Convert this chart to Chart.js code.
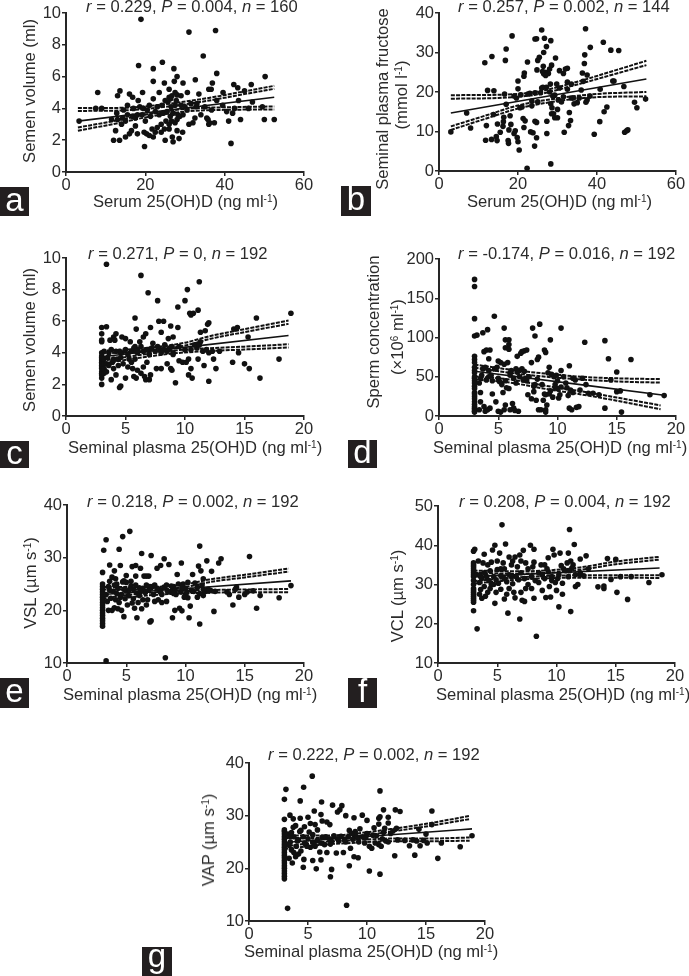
<!DOCTYPE html>
<html>
<head>
<meta charset="utf-8">
<title>25(OH)D correlations</title>
<script src="https://cdn.jsdelivr.net/npm/chart.js@4"></script>
<style>
  html, body { margin: 0; padding: 0; background: #fff; }
  body { position: relative; width: 689px; height: 976px; overflow: hidden; font-family: "Liberation Sans", Arial, sans-serif; color: #2b2b2b; }
  canvas { position: absolute; }
  .label { position: absolute; white-space: nowrap; font-size: 16.6px; line-height: 18px; transform: translateY(-50%); }
  .ylabel { position: absolute; white-space: nowrap; font-size: 16.6px; line-height: 18px; transform: translate(-50%, -50%) rotate(-90deg); }
  sup { font-size: 10px; line-height: 0; vertical-align: 5px; }
  .badge { position: absolute; background: #231f20; color: #fff; font-size: 33px; text-align: center; }
</style>
</head>
<body>
<script>
// Panel a - semen volume vs serum 25(OH)D
const aPoints = [[18.9,9.6],[31,8.8],[37.7,8.9],[34.6,7.3],[18.3,6.7],[24.3,6.9],[22,6.5],[27.2,6.5],[38,6.2],[50.2,6],[28,6],[22,5.7],[24.8,5.6],[27.3,5.7],[29.5,5.6],[32.6,5.8],[36.9,5.6],[8,5],[13.6,5.1],[13,4.8],[16,4.9],[16.8,4.7],[19.3,5],[23.5,5],[26,5.2],[30.6,5],[33.5,4.9],[36,5.2],[36.6,5.2],[39.6,5],[42.3,5.5],[43.3,5.3],[45,5.1],[46.7,5.5],[27.5,5],[28,4.85],[29,4.8],[26,4.7],
  [3.3,3.2],[7.5,4],[9,4],[11.5,3.3],[12,2],[12.5,2.6],[13.5,2],[13,3.3],[14,3],[14.3,3.4],[15,2.2],[15.5,3.6],[15.5,4.2],[16,2.4],[16.5,2.6],[16.8,3.5],[17.5,3.4],[17.5,2.9],[18,2.4],[18.2,4.5],[18.6,4.1],[19.2,3.6],[19.5,4],[19.7,2.5],[19.8,1.6],[20.3,2.4],[20.5,3.9],[21,4.2],[21,2.3],[21.3,3.5],[21.7,2.7],[22,2.2],[22,4.6],[22.5,2.5],[23,2.8],[23,4.1],[23.5,3.6],[24,3],[24,2.5],[24.5,3.7],[24.8,2.7],[25,2],[25.2,3.2],[25.5,3.8],[25.7,4.4],[26,3],[26,2.7],[26.3,3.5],[26.6,3.2],[26.7,4.8],[26.8,2.2],[27,1.9],[27,3.7],[27.5,3.1],[27.5,4.2],[28,2.6],[28.2,3.6],[28.5,2.1],[28.7,3.5],[29,4.2],[29.4,2.5],[29.5,3.6],[30,4.1],[31,3],[31.5,4.3],[32,3.1],[32.5,3.4],[32.8,4.1],[33,4.3],[34,3.6],[35,4.1],[35.5,3.4],[36,3],[36.7,3.9],[37.4,3.1],[38,4.5],[39.5,4.2],[40.5,3.8],[41,3.2],[41.6,1.8],[42,3.7],[42.5,4],[43.5,4.5],[44,3.3],[47,4.4],[49.5,4.1],[50,3.3],[52.5,3.3],[46,4],[36.2,3.1],[35.8,3.3],[17,4],[18,3.6],[14.5,3.9],[20,3.2],[22.5,3.8],[24.2,4.2],[26.5,4.1],[28,3.3],[30.5,3.9],[12.8,3.7],[15,3.2],[25,4.5],[26.4,4.6],[27.8,4.5]];
const aFit = [[3,3.2],[52.5,4.7]];
const aUpperOuter = [[3,4.02],[15,4.04],[25,4.27],[35,4.62],[45,5.07],[52.5,5.42]];
const aUpperInner = [[3,3.84],[15,3.88],[25,4.1],[35,4.45],[45,4.9],[52.5,5.23]];
const aLowerOuter = [[3,2.8],[12,3.2],[20,3.6],[30,3.97],[40,4.07],[52.5,4.12]];
const aLowerInner = [[3,2.6],[12,3.02],[20,3.43],[30,3.8],[40,3.91],[52.5,3.93]];

// Panel b - seminal plasma fructose vs serum 25(OH)D
const bPoints = [[3,9.9],[7,14.7],[8,10.9],[11.6,27.4],[11.8,7.8],[12,11.5],[12.3,20.4],[13.3,8],[13.4,29],[13.8,14.3],[13.9,20.3],[14.5,8.7],[14.7,7.7],[14.8,11.9],[15.5,9.8],[16.2,11.3],[16.3,12.5],[16.4,13.6],[16.6,19.5],[16.8,28],[17,30.9],[17,16.9],[17.5,7.7],[17.6,7],[17.7,10.4],[18,14],[18.2,11.8],[18.5,34.2],[19,9.5],[19.3,10.2],[19.6,18.5],[20,22.8],[20,20.8],[19.8,8.5],[20,7.4],[20.3,5.3],[20.7,19.3],[20.5,16],[21.3,13.3],[21.5,24],[21.6,24.8],[21.8,12.7],[21.5,11],[22.3,0.7],[22.4,27.6],[23,19.7],[23.2,9.9],[23.5,17.7],[23.8,9.7],[23.5,16.5],[24.2,6.3],[24.3,19.8],[24.3,12.6],[24.3,33.4],[24.7,33.5],[24.7,8.4],[24.7,12.3],[24.8,25.6],[25,28],[25.4,28.8],[25.7,19.8],[26,35.7],[26.3,21.2],[26.4,26.5],[26.5,30],[26.5,24.6],[26.7,33.6],[26.8,25],[27.2,31.5],[27.2,21.2],[27.3,9.5],[27.3,12.6],[27.5,25],[27.7,24.7],[28,25.8],[28,20],[28.2,22],[28.3,33],[28.5,26.8],[28.3,17],[28.5,14.5],[28.6,16],[28.3,1.8],[29,14.5],[29.3,19.2],[29.3,13.5],[29.5,28.6],[29.8,22],[30,15.6],[30,13.5],[30.2,18],[30.5,25.4],[31,17.5],[31.5,18.8],[31.5,24.7],[31.7,9.8],[32,25.8],[32.5,26],[32.5,20.7],[32.5,22.5],[32.8,11.5],[33,14.8],[33.3,12.8],[33.5,18.5],[33.5,22],[34.2,17],[35,17.3],[35.5,18.5],[36,20.5],[36.3,24.8],[36.5,22.7],[36.8,27.2],[36.9,29.4],[37.2,17.4],[37.5,24.3],[37.1,36],[37.5,18],[38.3,31.3],[38.2,19],[39.3,9.3],[40.7,12.5],[40.8,20.7],[41.6,32.6],[41.8,15],[42.5,16.2],[43.5,30.6],[44,22.8],[44.3,22.8],[45.5,30.5],[46.8,21.4],[47,9.8],[47.5,10.2],[47.8,10.4],[49.5,17.4],[50.1,16],[52.3,18.2],[19,19],[21,16.2],[22.5,19.5],[25,17.5],[26,21],[28.8,19],[30.5,21],[34,18.5],[26.2,25.2],[27,24.2]];
const bFit = [[3,14.7],[52.5,23.3]];
const bUpperOuter = [[3,19.2],[15,19.3],[25,20.1],[35,22.6],[45,25.6],[52.5,27.9]];
const bUpperInner = [[3,18.3],[15,18.5],[25,19.4],[35,21.9],[45,24.7],[52.5,26.8]];
const bLowerOuter = [[3,11.3],[12,14.1],[20,16.6],[30,18.4],[40,19.5],[52.5,20]];
const bLowerInner = [[3,10.4],[12,13.3],[20,15.8],[30,17.7],[40,18.7],[52.5,18.9]];

// Panel c - semen volume vs seminal plasma 25(OH)D
const cPoints = [[3,2],[3,2.4],[3,2.6],[3,2.7],[3,2.8],[3,3],[3,3.1],[3,3.2],[3,3.3],[3,3.4],[3,3.5],[3,3.6],[3,3.7],[3,3.8],[3,4],[3,4.7],[3,4.8],[3,5.2],[3,5.6],[3.2,2.7],[3.2,3],[3.2,3.3],[3.2,3.6],[3.2,4.1],[3.4,5.65],[3.4,9.6],[3.4,3.3],[3.4,2.8],[3.7,4.8],[3.8,2.3],[3.9,3.4],[4,5],[4.1,4.8],[4,3.6],[4.2,5.2],[4.2,2.6],[4.4,3.2],[4.5,1.8],[4.6,1.9],[4.7,5],[4.7,4],[5,2.4],[5,4.9],[5.3,3.6],[5.4,4.7],[5.5,3.4],[5.7,2.5],[5.8,6.2],[5.8,4.4],[5.9,2.4],[5.9,5.5],[6,2.9],[6,4],[6.3,8.9],[6.2,4.7],[6.3,2.7],[6.5,5],[6.7,5.2],[6.7,2.3],[6.8,3.4],[6.9,7.8],[6.9,4.2],[7,2.3],[7.1,2.6],[7.1,5.6],[7.3,4.6],[7.6,3],[7.7,7.3],[7.8,6],[7.9,4.2],[8,5.3],[8,3],[8.2,6],[8.5,3.3],[8.6,4.9],[8.7,4.3],[8.8,3],[8.9,2.9],[8.8,5.7],[9,5],[9,4],[9.2,2.1],[9.4,5.6],[9.5,3.5],[9.4,6.9],[9.8,3.4],[10,4.2],[10,7.3],[10.1,3.4],[10.2,8],[10.3,2.6],[10.5,3],[10.3,3.6],[10.4,6.5],[10.5,6.4],[10.6,2.4],[10.7,6.5],[11.1,6.7],[11.1,3.6],[11.2,8.5],[11.3,5.3],[11.3,4.7],[11.5,4.1],[11.6,3.2],[11.7,5.4],[11.9,5.8],[12,2.2],[12,5.9],[12,4],[12.4,3.6],[12.6,3],[12.9,4.1],[14,3.4],[14.1,5.5],[14.4,5.6],[14.5,4],[15,3.3],[15.3,5],[15.4,3],[16,6.2],[16.3,2.4],[17.9,3.6],[18.9,6.5],
  [4.5,4.1],[5,4.2],[5.5,4.1],[6,4.2],[6.5,4.1],[7,3.9],[7.5,4.1],[8,4],[8.5,4.1],[9,3.9],[9.5,4.4],[10.5,4.2],[11,4.3],[11.8,4.2],[12.3,4.1],[3.6,4],[3.8,4.2],[3.6,3.2],[4,3],[4.3,3.6],[4.8,3.3],[5.2,3.1],[5.6,3],[5.8,3.6],[6.5,3.1],[4.2,4.1],[5.7,4.3],[6.3,4.4],[7.2,4.3],[8.3,4.5],[8.9,4.4],[3.5,3.7],[4.6,3.7],[5.9,4.1],[6.8,4.2],[7.7,4.4],[8.2,4.2],[10.8,4.5],[11.2,4.5],[6.6,2.5],[5.2,3.9]];
const cFit = [[3,3.75],[18.7,5.1]];
const cUpperOuter = [[3,4.12],[7,4.32],[10,4.64],[12,5.04],[15,5.5],[18.7,6.04]];
const cUpperInner = [[3,3.95],[7,4.15],[10,4.46],[12,4.86],[15,5.31],[18.7,5.83]];
const cLowerOuter = [[3,3.49],[6,3.84],[9,4.14],[12,4.29],[15,4.39],[18.7,4.54]];
const cLowerInner = [[3,3.31],[6,3.66],[9,3.96],[12,4.11],[15,4.21],[18.7,4.34]];

// Panel d - sperm concentration vs seminal plasma 25(OH)D
const dPoints = [[3,174],[3,165],[3,124],[3,102],[3,76],[3,72],[3,68],[3,62],[3,58],[3,55],[3,50],[3,48],[3,45],[3,42],[3,38],[3,35],[3,30],[3,28],[3,25],[3,22],[3,18],[3,15],[3,12],[3,10],[3,8],[3,6],[3,5],[3.2,103],[3.4,8],[3.5,18],[3.7,106],[3.8,82],[4,84],[4.2,73],[4.1,110],[4.3,84],[4.67,127],[5.5,112],[5.6,97],[5.9,97],[5.9,91],[5.6,87],[5.9,85],[5,70],[5.2,68],[5.5,66],[5.8,68],[5,6],[5.2,5],[5.5,8],[5.6,14],[5.4,30],[5.9,35],[6,55],[6.2,16],[6.3,10],[6.4,7],[6.7,6],[6.6,76],[6.9,80],[7,82],[7.2,83],[7.4,84],[6.5,60],[6.8,58],[7,60],[7.2,57],[7.4,45],[7.5,27],[7.8,22],[7.8,68],[7.9,112],[8,31],[8.1,102],[8.2,20],[8.3,72],[8.4,75],[8.5,117],[8.4,8],[8.6,8],[8.8,20],[8.9,84],[9,81],[9,8],[9,5],[9.1,14],[9.3,28],[9.3,62],[9.4,97],[9.5,53],[9.6,24],[9.8,40],[9.8,36],[10,45],[10.1,23],[10.2,27],[10.3,58],[10.3,112],[10.5,50],[10.8,36],[10.9,26],[11,64],[11,10],[11.2,8],[11.3,48],[11.3,30],[11.6,11],[11.8,12],[11.9,33],[12.3,94],[12.4,40],[12.6,29],[13,29],[13.5,27],[14,96],[14,10],[14.3,73],[14.5,46],[15,56],[15,31],[15.4,5],[15.3,32],[16.2,72],[17.8,27],[19,26],
  [3.5,48],[3.7,60],[4,46],[4.2,58],[4.5,45],[4.7,60],[4.5,28],[4.8,18],[4.3,10],[3.9,6],[4.2,50],[5,48],[5.3,40],[5.6,45],[6,52],[6.3,48],[6.5,42],[6.8,50],[7.3,48],[7.6,50],[8,38],[8.3,47],[8.7,40],[9,27],[9.2,55],[9.7,50],[10,35],[10.3,37],[10.7,42],[11.1,33],[3.4,42],[3.6,52],[3.9,62],[4.4,52],[4.9,62],[5.1,44],[5.7,36],[6.1,58],[6.6,56],[7.1,46],[8.1,40],[8.9,28],[9.4,32],[9.9,52],[11.5,46],[12.1,48],[3.5,30],[3.8,12],[4.1,8],[6,8]];
const dFit = [[3,57],[19,26.5]];
const dUpperOuter = [[3,65.5],[6,59],[9,54],[12,50],[15,48],[18.7,47]];
const dUpperInner = [[3,61.5],[6,55],[9,50],[12,46.5],[15,44],[18.7,42.5]];
const dLowerOuter = [[3,50.5],[6,46.5],[9,38.5],[12,31.5],[15,23.5],[18.7,13.5]];
const dLowerInner = [[3,46.5],[6,42.5],[9,34.5],[12,27.5],[15,19.5],[18.7,8.5]];

// Panel e - VSL vs seminal plasma 25(OH)D
const ePoints = [[3,17],[3,17.5],[3,18],[3,18.5],[3,19],[3,19.5],[3,20],[3,20.5],[3,21],[3,21.5],[3,22],[3,22.5],[3,23],[3,23.5],[3,24],[3,24.5],[3,25],[3,27.2],[3.1,31.4],[3.3,33.4],[3.3,10.4],[3.5,20],[3.6,28.6],[3.6,25.5],[3.8,20],[4,27.5],[4,20.5],[4.1,26],[4.2,25],[4.3,20.3],[4.4,31.6],[4.5,28.5],[4.5,22.5],[4.6,20],[4.7,34],[4.7,25.4],[4.8,18.8],[5,26.6],[5,23.7],[5.1,21],[5.3,35],[5.4,25.5],[5.5,28.3],[5.6,24],[5.7,20.4],[5.8,28.5],[5.8,26.5],[5.9,18.6],[6,21.5],[6.1,24.3],[6.2,28],[6.3,20.3],[6.3,30.8],[6.4,22],[6.5,26.5],[6.7,21],[6.9,26.5],[7,17.8],[7.1,18],[7.1,30.4],[7.2,24.5],[7.4,21.7],[7.6,28],[7.8,24],[7.9,28.5],[8,21.5],[8.2,29.8],[8.3,11],[8.4,21.7],[8.6,28.7],[8.7,23.5],[8.9,18.6],[9,24.5],[9.1,20],[9.2,23],[9.3,26.8],[9.5,20.4],[9.7,19.9],[9.8,25],[10,22.8],[9.65,29],[10.2,25.3],[10.3,18.6],[10.4,20.8],[10.5,23.8],[10.6,26.8],[11,22.5],[11.1,28.4],[11.2,32.2],[11.2,17.4],[11.3,27.5],[11.5,26],[11.5,22.8],[11.8,29.4],[11.9,24],[12.2,27.4],[12.1,23.8],[12.4,19.8],[12.8,29],[13,29.8],[13.7,23],[14,21],[14.3,24.4],[14.5,22.5],[15,23],[15.4,30.2],[15.2,23.5],[15.7,23.7],[16,20.4],[16.3,22.8],[17.9,22.4],[18.9,24.7],
  [3.3,23],[3.5,24.5],[3.7,22.3],[3.9,23.6],[4.1,22],[4.3,24.2],[4.6,23],[4.8,24],[5.2,22.8],[5.4,24.6],[5.6,22.2],[5.9,23.3],[6.1,22.8],[6.4,24.2],[6.6,23.4],[6.8,22],[7,24.5],[7.3,23],[7.6,24.2],[7.9,23.4],[8.2,24.4],[8.5,23.6],[8.8,24.6],[9.1,23.7],[9.4,25],[9.6,23.5],[10,24.2],[10.2,22.4],[10.7,23.6],[11,24.4],[11.2,23.2],[11.5,24],[11.7,23.6],[12,23.7],[12.5,23.6],[13.5,23.5],[14.2,24],[4,24.8],[5,25.3],[6.7,24.8],[3.4,21.7],[4.4,21.5],[5.5,21.4],[7.7,22],[9.9,22.5],[3.8,26.3],[4.8,25.6],[6.7,26.5],[3.6,23.8],[4.2,23.2],[4.9,22.2],[5.3,24],[5.8,24.8],[6.2,23.6],[6.9,23.8],[7.4,24.8],[8,23],[8.4,24.8],[9,23.2],[9.7,24.4],[10.1,23.4],[10.8,25.2],[11.4,24.8]];
const eFit = [[3,23.0],[18.9,25.6]];
const eUpperOuter = [[3,24.45],[7,24.45],[10,24.95],[12,25.85],[15,26.75],[18.7,27.95]];
const eUpperInner = [[3,23.95],[7,23.95],[10,24.45],[12,25.35],[15,26.25],[18.7,27.35]];
const eLowerOuter = [[3,22.25],[6,23.15],[9,23.65],[12,23.85],[15,23.95],[18.7,24.05]];
const eLowerInner = [[3,21.75],[6,22.65],[9,23.15],[12,23.35],[15,23.45],[18.7,23.45]];

// Panel f - VCL vs seminal plasma 25(OH)D
const fPoints = [[3,25.5],[3,26],[3,26.5],[3,27],[3,27.5],[3,28],[3,28.5],[3,29],[3,30],[3,31],[3,32],[3,32.5],[3,33],[3,33.5],[3,34],[3,34.5],[3,35],[3,35.5],[3,23.3],[3,38.5],[3.1,39],[3.3,18.7],[3.6,32],[3.7,26.5],[3.8,35.5],[3.9,37.7],[4,27],[4.2,35],[4.2,28],[4.5,35.7],[4.6,38.8],[4.7,30],[4.8,25.2],[4.8,40],[5,36],[5.2,38],[5.3,34],[5.3,28.8],[5.4,45.2],[5.5,35.5],[5.6,26.3],[5.7,40.3],[5.9,22.7],[6,29],[6,37],[6.2,32],[6.4,28],[6.5,26.6],[6.5,37],[6.7,34.5],[6.9,37.5],[6.9,21.2],[7,36],[7.1,26],[7.2,38.7],[7.3,25.7],[7.4,29],[7.6,34],[7.8,40],[7.9,29],[8.1,39],[8.1,35.7],[8.1,26.5],[8.3,16.8],[8.5,33],[8.8,28.5],[9,35],[9.1,26.7],[9.3,36.8],[9.4,29.5],[9.5,26.8],[9.6,31],[9.8,37.5],[10,28.5],[10.1,31.5],[9.7,39],[10.2,24.3],[10.3,38],[10.5,27.5],[10.6,34],[11,38],[11.1,44],[11.2,23.1],[11.2,36],[11.5,40.2],[11.4,35],[11.6,29.5],[11.8,30],[12,36.5],[12,32.5],[12.5,37.3],[12.7,34],[13.5,29.4],[14,29],[14,29.6],[14.3,36.6],[14.6,31.3],[15,36.4],[15.1,28],[15.4,32],[16,26.2],[16.3,32],[17.8,30.5],[18.9,32.5],
  [3.3,32.5],[3.5,30.5],[3.7,31.5],[3.9,29.5],[4.1,32],[4.3,31],[4.5,30],[4.7,32],[4.9,31.2],[5.1,30.3],[5.3,32.2],[5.6,31.5],[5.8,30.7],[6,32.5],[6.3,30.2],[6.6,32],[6.8,31.2],[7,33],[7.3,31.5],[7.6,30],[7.9,32],[8.2,31],[8.5,30.5],[8.8,32.4],[9,31.5],[9.3,33.2],[9.6,32],[9.9,30.5],[10.2,32.5],[10.5,30.3],[10.8,33.5],[11,32],[11.3,34.2],[11.6,32.5],[12,33],[12.3,32.2],[3.4,36],[3.6,28.7],[3.9,33],[4.4,33.5],[5,33.8],[5.6,34],[6.2,35],[7.4,35.5],[8.7,35],[10.9,35.5],[4.9,28],[5.8,27.5],[6.3,36],[7,28],[8,34.5],[9.2,34],[10.4,34.8],[11.1,33.5],[3.5,27.5],[4.4,29]];
const fFit = [[3,32],[18.7,34.2]];
const fUpperOuter = [[3,33.55],[7,33.35],[10,33.75],[12,34.35],[15,35.85],[18.7,37.05]];
const fUpperInner = [[3,32.95],[7,32.75],[10,33.15],[12,33.75],[15,35.15],[18.7,36.35]];
const fLowerOuter = [[3,30.85],[6,31.65],[9,32.15],[12,32.35],[15,32.35],[18.7,32.35]];
const fLowerInner = [[3,30.25],[6,31.05],[9,31.55],[12,31.75],[15,31.75],[18.7,31.65]];

// Panel g - VAP vs seminal plasma 25(OH)D
const gPoints = [[3,18],[3,18.5],[3,19],[3,19.5],[3,20],[3,20.5],[3,21],[3,21.5],[3,22],[3,22.5],[3,23],[3,23.5],[3,24],[3,24.5],[3,25],[3,25.5],[3,26],[3,26.5],[3,27],[3,27.3],[3.27,12.4],[8.27,13],[5.36,37.5],[4.63,35.4],[3.13,35],[3,33.1],[4.34,32.8],[6.15,32.6],[7.08,32],[7.87,31.9],[5.53,30.9],[7.7,31.1],[7.5,30.7],[3.47,30.1],[3,29.3],[6.1,30.2],[5,29.7],[4.34,29.5],[3.75,29.4],[8.2,30],[8.9,29.6],[9.6,30.1],[10,29.1],[6.2,29],[6.6,28.8],[6.85,28.3],[5.2,28.5],[5.6,28.3],[4.7,27.9],[3.95,28.1],[3.75,27.8],[4.4,27.2],[5.1,26.9],[11,28.4],[11,29.5],[11.1,29.8],[11.8,29.7],[11.8,28.6],[11.4,31.1],[12.4,31.1],[12.8,30.8],[15.5,30.9],[11.1,34.7],[10.2,19.5],[11.1,18.9],[6.9,18.4],[7,19.8],[8.5,20.5],[4.6,20.2],[5.7,19.9],[5.4,21.5],[6.1,21.6],[4.65,21.7],[3.67,21],[3.4,21.9],[3.95,22.2],[4.2,22.7],[8.9,22.2],[9.25,22],[12.35,22.4],[14.05,22.5],[16,21.9],[17.9,24.1],[18.9,26.2],[14.4,27.4],[15,26.5],[15.5,28.3],[13.6,24.3],[14.5,24.3],[15.1,24.8],[16.3,24.8],[12.5,27.6],[14.2,25.2],
  [3.3,26.5],[3.5,25],[3.6,23.5],[3.8,26],[4,24.2],[4.2,25.4],[4.4,23.3],[4.6,26],[4.8,24.6],[5,25.6],[5.2,24],[5.4,26.4],[5.6,24.2],[5.8,25.3],[6,23.1],[6.2,25.9],[6.4,24.5],[6.6,23],[6.8,25.6],[7,25.1],[7.2,26.2],[7.4,22.9],[7.6,25.2],[7.8,26.1],[8,23],[8.2,25],[8.4,26],[8.6,23.8],[8.8,25.5],[9,27],[9.2,25.8],[9.4,27.5],[9.6,26],[9.8,24.8],[10,26.5],[10.2,24.2],[10.4,23.8],[10.6,27.7],[10.8,26.2],[11,24.5],[11.2,24.2],[11.4,26.8],[11.6,25.2],[11.8,25],[12,26.6],[12.2,27.1],[12.6,25.4],[13.2,25.3],[13.9,25.4],[3.4,24.4],[4.3,27],[5.8,27.3],[6.5,26],[8.5,27.2],[9,26.5],[10,26.6],[10.5,26.3],[11.5,27.6],[14.8,25.3],[3.8,23],[4.9,24.2],[3.5,26],[4.1,25.2],[4.7,24.8],[5.4,25],[6.1,24.8],[6.9,24.6],[7.5,25.6],[8.1,25.4],[8.7,26.6],[9.3,25],[9.9,25.8],[10.7,24.8],[11.3,25.6],[3.6,26.8],[5.5,24.6]];
const gFit = [[3,24.9],[18.9,27.5]];
const gUpperOuter = [[3,26.25],[7,26.25],[10,26.85],[12,27.45],[15,28.45],[18.7,29.95]];
const gUpperInner = [[3,25.75],[7,25.75],[10,26.35],[12,26.95],[15,27.95],[18.7,29.35]];
const gLowerOuter = [[3,24.15],[6,24.95],[9,25.35],[12,25.65],[15,25.65],[18.7,25.85]];
const gLowerInner = [[3,23.65],[6,24.45],[9,24.85],[12,25.15],[15,25.15],[18.7,25.25]];

const axisColor = "#262626";
const leftRoom = 44;
const topRoom = 10;
const rightRoom = 16;
const bottomRoom = 24;

function toXY(pairs) {
  return pairs.map((p) => ({ x: p[0], y: p[1] }));
}

function lineSet(pairs, width, dash) {
  return {
    type: "scatter",
    data: toXY(pairs),
    showLine: true,
    borderColor: "#111",
    borderWidth: width,
    borderDash: dash,
    pointRadius: 0,
    cubicInterpolationMode: "monotone",
    clip: false
  };
}

// plot = left, top, width, height of the plot area on the page
function drawPanel(plot, xMax, xStep, yMin, yMax, yStep, points, fit, upperOuter, upperInner, lowerOuter, lowerInner) {
  const canvas = document.createElement("canvas");
  const w = leftRoom + plot[2] + rightRoom;
  const h = topRoom + plot[3] + bottomRoom;
  canvas.width = w;
  canvas.height = h;
  canvas.style.left = plot[0] - leftRoom + "px";
  canvas.style.top = plot[1] - topRoom + "px";
  canvas.style.width = w + "px";
  canvas.style.height = h + "px";
  document.body.appendChild(canvas);

  const dash = [4, 1.2];
  new Chart(canvas, {
    type: "scatter",
    data: {
      datasets: [
        { data: toXY(points), backgroundColor: "#111", borderWidth: 0, pointRadius: 2.8, clip: false },
        lineSet(fit, 1.6, []),
        lineSet(upperOuter, 2, dash),
        lineSet(upperInner, 2, dash),
        lineSet(lowerOuter, 2, dash),
        lineSet(lowerInner, 2, dash)
      ]
    },
    options: {
      responsive: false,
      animation: false,
      devicePixelRatio: 1,
      layout: { padding: { top: topRoom, right: rightRoom, left: 0, bottom: 0 } },
      plugins: { legend: { display: false }, tooltip: { enabled: false } },
      scales: {
        x: {
          type: "linear",
          min: 0,
          max: xMax,
          grid: { drawOnChartArea: false, color: axisColor, lineWidth: 1.5, tickLength: 4 },
          border: { color: axisColor, width: 2 },
          ticks: { stepSize: xStep, color: "#2b2b2b", padding: 0, maxRotation: 0, font: { family: "Liberation Sans", size: 16.5 } },
          afterFit: (scale) => { scale.height = bottomRoom; scale.paddingLeft = 0; scale.paddingRight = 0; }
        },
        y: {
          type: "linear",
          min: yMin,
          max: yMax,
          grid: { drawOnChartArea: false, color: axisColor, lineWidth: 1.5, tickLength: 4 },
          border: { color: axisColor, width: 2 },
          ticks: { stepSize: yStep, color: "#2b2b2b", padding: 1, font: { family: "Liberation Sans", size: 16.5 } },
          afterFit: (scale) => { scale.width = leftRoom; scale.paddingTop = 0; scale.paddingBottom = 0; }
        }
      }
    }
  });
}

function addText(html, left, mid) {
  const el = document.createElement("div");
  el.className = "label";
  el.innerHTML = html;
  el.style.left = left + "px";
  el.style.top = mid + "px";
  document.body.appendChild(el);
}

function addYTitle(html, cx, cy) {
  const el = document.createElement("div");
  el.className = "ylabel";
  el.innerHTML = html;
  el.style.left = cx + "px";
  el.style.top = cy + "px";
  document.body.appendChild(el);
}

function addBadge(letter, left, top, width, height, lift) {
  const el = document.createElement("div");
  el.className = "badge";
  el.textContent = letter;
  el.style.left = left + "px";
  el.style.top = top + "px";
  el.style.width = width + "px";
  el.style.height = height + "px";
  el.style.lineHeight = height - lift + "px";
  document.body.appendChild(el);
}

function stats(r, p, n) {
  return `<i>r</i> = ${r}, <i>P</i> = ${p}, <i>n</i> = ${n}`;
}

const serumTitle = "Serum 25(OH)D (ng ml<sup>-1</sup>)";
const plasmaTitle = "Seminal plasma 25(OH)D (ng ml<sup>-1</sup>)";

drawPanel([66, 13, 238, 159], 60, 20, 0, 10, 2, aPoints, aFit, aUpperOuter, aUpperInner, aLowerOuter, aLowerInner);
drawPanel([439, 13, 237, 158], 60, 20, 0, 40, 10, bPoints, bFit, bUpperOuter, bUpperInner, bLowerOuter, bLowerInner);
drawPanel([66, 258, 238, 158], 20, 5, 0, 10, 2, cPoints, cFit, cUpperOuter, cUpperInner, cLowerOuter, cLowerInner);
drawPanel([439, 259, 237, 157], 20, 5, 0, 200, 50, dPoints, dFit, dUpperOuter, dUpperInner, dLowerOuter, dLowerInner);
drawPanel([67, 505, 237, 158], 20, 5, 10, 40, 10, ePoints, eFit, eUpperOuter, eUpperInner, eLowerOuter, eLowerInner);
drawPanel([438, 506, 237, 157], 20, 5, 10, 50, 10, fPoints, fFit, fUpperOuter, fUpperInner, fLowerOuter, fLowerInner);
drawPanel([249, 763, 236, 158], 20, 5, 10, 40, 10, gPoints, gFit, gUpperOuter, gUpperInner, gLowerOuter, gLowerInner);

addText(stats("0.229", "0.004", "160"), 86, 7);
addText(stats("0.257", "0.002", "144"), 458, 7);
addText(stats("0.271", "0", "192"), 88, 254);
addText(stats("-0.174", "0.016", "192"), 458, 254);
addText(stats("0.218", "0.002", "192"), 87, 502);
addText(stats("0.208", "0.004", "192"), 459, 502);
addText(stats("0.222", "0.002", "192"), 268, 755);

addText(serumTitle, 93, 202);
addText(serumTitle, 467, 202);
addText(plasmaTitle, 68, 448);
addText(plasmaTitle, 433, 448);
addText(plasmaTitle, 63, 695);
addText(plasmaTitle, 436, 695);
addText(plasmaTitle, 244, 952);

addYTitle("Semen volume (ml)", 30, 91);
addYTitle("Seminal plasma fructose", 383, 99);
addYTitle("(mmol l<sup>-1</sup>)", 402, 95);
addYTitle("Semen volume (ml)", 30, 340);
addYTitle("Sperm concentration", 374, 332);
addYTitle("(×10<sup>6</sup> ml<sup>-1</sup>)", 398, 337);
addYTitle("VSL (µm s<sup>-1</sup>)", 31, 583);
addYTitle("VCL (µm s<sup>-1</sup>)", 398, 596);
addYTitle("VAP (µm s<sup>-1</sup>)", 209, 840);

addBadge("a", 0, 187, 29, 29, 4);
addBadge("b", 341, 186, 30, 30, 4);
addBadge("c", 0, 441, 29, 27, 4);
addBadge("d", 348, 440, 29, 28, 4);
addBadge("e", 0, 678, 29, 30, 4);
addBadge("f", 348, 678, 29, 30, 4);
addBadge("g", 142, 947, 30, 29, 12);
</script>
</body>
</html>
